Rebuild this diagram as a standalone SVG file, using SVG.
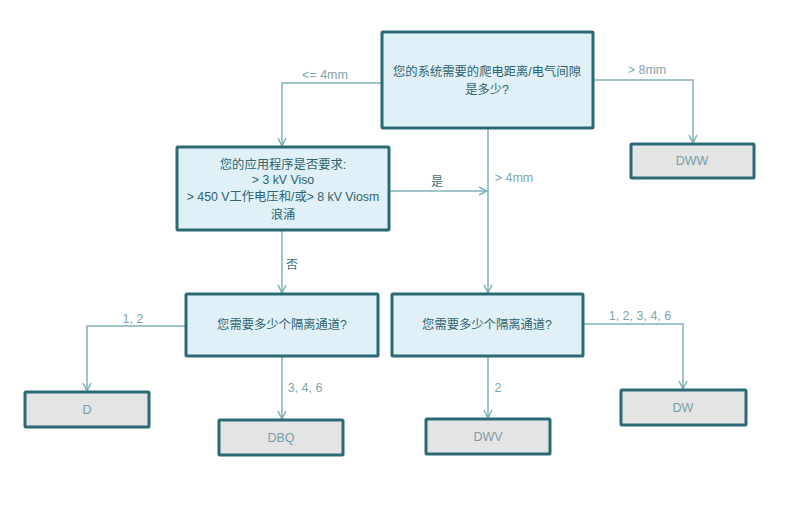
<svg xmlns="http://www.w3.org/2000/svg" width="786" height="506" viewBox="0 0 786 506">
<defs>
<marker id="arr" viewBox="0 0 10 10" refX="9" refY="5" markerWidth="10" markerHeight="10" markerUnits="userSpaceOnUse" orient="auto">
<path d="M1,1 L9,5 L1,9" fill="none" stroke="#7fb0ba" stroke-width="1.5"/>
</marker>
<style>
.q{fill:#dff1f6;stroke:#2b6a74;stroke-width:3}
.t{fill:#e4e4e4;stroke:#2b6a74;stroke-width:3}
.qt{font-family:"Liberation Sans","Noto Sans CJK SC",sans-serif;font-size:12.3px;fill:#2f6370;text-anchor:middle}
.tt{font-family:"Liberation Sans",sans-serif;font-size:12.5px;fill:#7a9ea8;text-anchor:middle}
.lb{font-family:"Liberation Sans","Noto Sans CJK SC",sans-serif;font-size:12.5px;fill:#7fa4ad;text-anchor:middle}
.ld{font-family:"Liberation Sans","Noto Sans CJK SC",sans-serif;font-size:12px;fill:#3f6f7a;text-anchor:middle}
.c{fill:none;stroke:#7fb0ba;stroke-width:1.5}
</style>
</defs>
<rect width="786" height="506" fill="#ffffff"/>
<g id="connectors">
<path class="c" d="M382,83 H282 V146" marker-end="url(#arr)"/>
<path class="c" d="M593,80 H693 V143" marker-end="url(#arr)"/>
<path class="c" d="M488,128 V293" marker-end="url(#arr)"/>
<path class="c" d="M389,191 H487" marker-end="url(#arr)"/>
<path class="c" d="M282,230 V293" marker-end="url(#arr)"/>
<path class="c" d="M186,326 H87 V391" marker-end="url(#arr)"/>
<path class="c" d="M282,356 V419" marker-end="url(#arr)"/>
<path class="c" d="M488,356 V418" marker-end="url(#arr)"/>
<path class="c" d="M583,324 H683 V389" marker-end="url(#arr)"/>
<text class="lb" x="325" y="79">&lt;= 4mm</text>
<text class="lb" x="647" y="74">&gt; 8mm</text>
<text class="lb" x="514" y="182">&gt; 4mm</text>
<text class="ld" x="437" y="186">是</text>
<text class="ld" x="292" y="269">否</text>
<text class="lb" x="133" y="323">1, 2</text>
<text class="lb" x="305" y="392">3, 4, 6</text>
<text class="lb" x="498" y="392">2</text>
<text class="lb" x="640" y="320">1, 2, 3, 4, 6</text>
</g>
<g id="q1">
<rect class="q" x="382" y="32" width="211" height="96" rx="1"/>
<text class="qt" x="487" y="76">您的系统需要的爬电距离/电气间隙</text>
<text class="qt" x="487" y="94">是多少?</text>
</g>
<g id="q2">
<rect class="q" x="177" y="147" width="212" height="83" rx="1"/>
<text class="qt" x="283" y="169">您的应用程序是否要求:</text>
<text class="qt" x="283" y="184">&gt; 3 kV Viso</text>
<text class="qt" x="283" y="201">&gt; 450 V工作电压和/或&gt; 8 kV Viosm</text>
<text class="qt" x="283" y="219">浪涌</text>
</g>
<g id="q3">
<rect class="q" x="186" y="294" width="192" height="62" rx="1"/>
<text class="qt" x="282" y="329">您需要多少个隔离通道?</text>
</g>
<g id="q4">
<rect class="q" x="392" y="294" width="191" height="62" rx="1"/>
<text class="qt" x="487" y="329">您需要多少个隔离通道?</text>
</g>
<g id="dww">
<rect class="t" x="631" y="144" width="123" height="34" rx="1"/>
<text class="tt" x="692" y="165">DWW</text>
</g>
<g id="d">
<rect class="t" x="25" y="392" width="124" height="35" rx="1"/>
<text class="tt" x="87" y="414">D</text>
</g>
<g id="dbq">
<rect class="t" x="219" y="420" width="124" height="35" rx="1"/>
<text class="tt" x="281" y="442">DBQ</text>
</g>
<g id="dwv">
<rect class="t" x="426" y="419" width="124" height="35" rx="1"/>
<text class="tt" x="488" y="441">DWV</text>
</g>
<g id="dw">
<rect class="t" x="621" y="390" width="125" height="35" rx="1"/>
<text class="tt" x="683" y="412">DW</text>
</g>
</svg>
